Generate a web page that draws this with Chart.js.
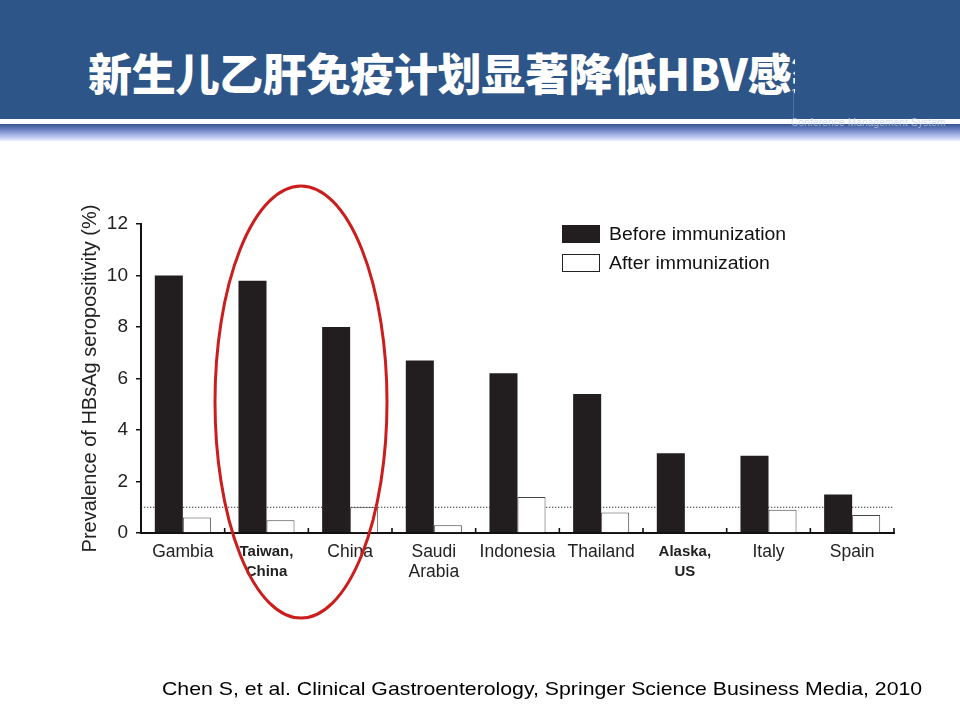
<!DOCTYPE html>
<html>
<head>
<meta charset="utf-8">
<script src="https://cdn.jsdelivr.net/npm/chart.js@4.4.0/dist/chart.umd.min.js"></script>
<style>
  html, body { margin: 0; padding: 0; background: #fff; }
  #page { position: relative; width: 960px; height: 720px; overflow: hidden; background: #fff; }
  #hdr { position: absolute; left: 0; top: 0; width: 960px; height: 119px; background: #2d5587; }
  #hdrLine { position: absolute; left: 0; top: 119px; width: 960px; height: 5px; background: #fbfdff; }
  #hdrGrad { position: absolute; left: 0; top: 124px; width: 960px; height: 17px;
    background: linear-gradient(#35558f 0%, #6f84c6 35%, #a9b5e8 65%, #d6def8 90%, #eef3ff 100%); }
  #titleClip { position: absolute; left: 88px; top: 40px; width: 707px; height: 64px; overflow: hidden; }
  #title { white-space: nowrap; color: #fff; font-family: "Noto Sans CJK SC", sans-serif; font-weight: 900;
    font-size: 44px; line-height: 64px; letter-spacing: -0.3px; }
  #vline { position: absolute; left: 793px; top: 90px; width: 1px; height: 29px; background: #4f71a3; }
  #cms { position: absolute; left: 791px; top: 117px; font-family: "Liberation Sans", Arial, sans-serif;
    font-size: 10px; color: rgba(200,210,228,0.75); white-space: nowrap; letter-spacing: 0.2px; }
  #chartBox { position: absolute; left: 0; top: 0; width: 960px; height: 720px; }
  #legend { position: absolute; left: 562px; top: 225px; font-family: "Liberation Sans", Arial, sans-serif;
    font-size: 17.5px; color: #111; }
  .lg { position: relative; height: 29px; }
  .lg .box { position: absolute; left: 0; top: 0; width: 38px; height: 18px; box-sizing: border-box; }
  .lg .txt { position: absolute; left: 47px; top: -1px; white-space: nowrap; line-height: 20px;
    transform: scaleX(1.11); transform-origin: left center; }
  #cite { position: absolute; left: 162px; top: 678px; font-family: "Liberation Sans", Arial, sans-serif;
    font-size: 19px; color: #000; white-space: nowrap; transform: scaleX(1.12); transform-origin: left center; }
</style>
</head>
<body>
<div id="page">
  <div id="hdr"></div>
  <div id="hdrLine"></div>
  <div id="hdrGrad"></div>
  <div id="titleClip"><div id="title">新生儿乙肝免疫计划显著降低HBV感染</div></div>
  <div id="vline"></div>
  <div id="cms">Conference Management System</div>
  <div id="chartBox"><canvas id="c"></canvas></div>
  <div id="legend"></div>
  <div id="cite">Chen S, et al. Clinical Gastroenterology, Springer Science Business Media, 2010</div>
</div>
<script>
// ---- data ----
const categories = [
  "Gambia", ["Taiwan,", "China"], "China", ["Saudi", "Arabia"], "Indonesia",
  "Thailand", ["Alaska,", "US"], "Italy", "Spain"
];
const boldCategoryIndexes = [1, 6];
const seriesNames = ["Before immunization", "After immunization"];
const beforeValues = [10.0, 9.8, 8.0, 6.7, 6.2, 5.4, 3.1, 3.0, 1.5];
const afterValues  = [0.6, 0.5, 1.0, 0.3, 1.4, 0.8, 0, 0.9, 0.7];
const yTicks = [0, 2, 4, 6, 8, 10, 12];
const referenceLevel = 1;

const FONT = '"Liberation Sans", Arial, sans-serif';

// annotation ellipse (slide overlay), in page pixels
const highlight = { cx: 301, cy: 402, rx: 86, ry: 216 };

const overlayPlugin = {
  id: 'overlay',
  beforeDatasetsDraw(chart) {
    const { ctx, chartArea, scales } = chart;
    const y = scales.y.getPixelForValue(referenceLevel);
    ctx.save();
    ctx.strokeStyle = '#333';
    ctx.lineWidth = 1.2;
    ctx.setLineDash([1.3, 1.7]);
    ctx.beginPath();
    ctx.moveTo(chartArea.left, y);
    ctx.lineTo(chartArea.right, y);
    ctx.stroke();
    ctx.restore();
  },
  afterDraw(chart) {
    const { ctx, chartArea, scales } = chart;
    const x = scales.x;
    // inner tick marks on category boundaries
    ctx.save();
    ctx.strokeStyle = '#111';
    ctx.lineWidth = 1.6;
    const n = categories.length;
    for (let i = 1; i <= n; i++) {
      const px = (x.getPixelForValue(i - 1) + (i < n ? x.getPixelForValue(i) : 2 * x.getPixelForValue(i - 1) - x.getPixelForValue(i - 2))) / 2;
      ctx.beginPath();
      ctx.moveTo(px, chartArea.bottom);
      ctx.lineTo(px, chartArea.bottom - 5);
      ctx.stroke();
    }
    ctx.restore();
    // red highlight ellipse
    ctx.save();
    ctx.strokeStyle = '#cc1d1d';
    ctx.lineWidth = 3;
    ctx.beginPath();
    ctx.ellipse(highlight.cx, highlight.cy, highlight.rx, highlight.ry, 0, 0, Math.PI * 2);
    ctx.stroke();
    ctx.restore();
  }
};

const chart = new Chart(document.getElementById('c'), {
  type: 'bar',
  data: {
    labels: categories,
    datasets: [
      { label: seriesNames[0], data: beforeValues, backgroundColor: '#221e1f', borderWidth: 0 },
      { label: seriesNames[1], data: afterValues, backgroundColor: '#ffffff', borderColor: '#444',
        borderWidth: { top: 1, left: 1, right: 1, bottom: 0 }, borderSkipped: 'bottom' }
    ]
  },
  options: {
    responsive: true,
    maintainAspectRatio: false,
    animation: false,
    datasets: { bar: { categoryPercentage: 0.67, barPercentage: 1.0 } },
    layout: { padding: { left: 70, top: 224, right: 66, bottom: 127 } },
    plugins: { legend: { display: false }, tooltip: { enabled: false } },
    scales: {
      x: {
        grid: { display: false, drawTicks: false },
        border: { display: true, color: '#111', width: 2 },
        ticks: {
          color: '#222',
          padding: 9,
          maxRotation: 0,
          autoSkip: false,
          font: (ctx) => boldCategoryIndexes.includes(ctx.index)
            ? { family: FONT, size: 15, weight: 'bold', lineHeight: 1.33 }
            : { family: FONT, size: 17.5, lineHeight: 1.15 }
        },
        afterFit: (s) => { s.height = 60; }
      },
      y: {
        min: 0, max: 12,
        afterBuildTicks: (s) => { s.ticks = yTicks.map(v => ({ value: v })); },
        grid: { drawOnChartArea: false, drawTicks: true, tickLength: 5, color: '#111', lineWidth: 1.5 },
        border: { display: true, color: '#111', width: 2 },
        ticks: { color: '#222', padding: 8, font: { family: FONT, size: 19 } },
        title: { display: true, text: 'Prevalence of HBsAg seropositivity (%)', color: '#222',
          font: { family: FONT, size: 20 }, padding: { top: 8, bottom: 0 } },
        afterFit: (s) => { s.width = 71; }
      }
    }
  },
  plugins: [overlayPlugin]
});

// HTML legend built from datasets
const legend = document.getElementById('legend');
chart.data.datasets.forEach((ds) => {
  const row = document.createElement('div');
  row.className = 'lg';
  const box = document.createElement('div');
  box.className = 'box';
  box.style.background = ds.backgroundColor;
  box.style.border = ds.borderWidth ? '1.5px solid #222' : 'none';
  const txt = document.createElement('div');
  txt.className = 'txt';
  txt.textContent = ds.label;
  row.appendChild(box);
  row.appendChild(txt);
  legend.appendChild(row);
});
</script>
</body>
</html>
